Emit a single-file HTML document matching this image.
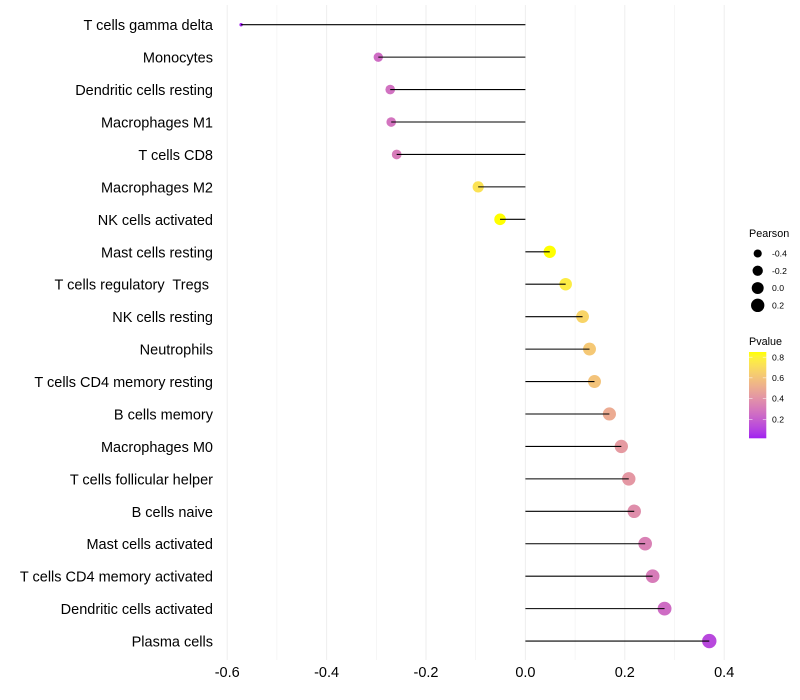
<!DOCTYPE html>
<html>
<head>
<meta charset="utf-8">
<title>Lollipop chart</title>
<style>
html,body{margin:0;padding:0;background:#fff;}
svg{display:block;}
text{font-family:"Liberation Sans",sans-serif;white-space:pre;}
</style>
</head>
<body>
<svg id="chart" width="800" height="700" viewBox="0 0 800 700" xmlns="http://www.w3.org/2000/svg">
<defs>
<linearGradient id="pgrad" x1="0" y1="1" x2="0" y2="0"></linearGradient>
</defs>
</svg>
<script>
const categories = ["T cells gamma delta","Monocytes","Dendritic cells resting","Macrophages M1","T cells CD8","Macrophages M2","NK cells activated","Mast cells resting","T cells regulatory  Tregs ","NK cells resting","Neutrophils","T cells CD4 memory resting","B cells memory","Macrophages M0","T cells follicular helper","B cells naive","Mast cells activated","T cells CD4 memory activated","Dendritic cells activated","Plasma cells"];
const pearsonValues = [-0.572,-0.296,-0.272,-0.270,-0.259,-0.095,-0.051,0.049,0.081,0.115,0.129,0.139,0.169,0.193,0.208,0.219,0.241,0.256,0.280,0.370];
const pValues = [0.016,0.25,0.27,0.28,0.31,0.73,0.85,0.85,0.77,0.67,0.62,0.60,0.50,0.43,0.42,0.38,0.33,0.31,0.25,0.12];
const xMajorTicks = [-0.6,-0.4,-0.2,0.0,0.2,0.4];
const xMinorTicks = [-0.5,-0.3,-0.1,0.1,0.3];
const sizeLegendValues = [-0.4,-0.2,0.0,0.2];
const colorLegendValues = [0.2,0.4,0.6,0.8];

const svg = document.getElementById('chart');
const NS = 'http://www.w3.org/2000/svg';
function mk(tag, attrs, parent) {
  const el = document.createElementNS(NS, tag);
  for (const k in attrs) el.setAttribute(k, attrs[k]);
  (parent || svg).appendChild(el);
  return el;
}

const X0 = 525.4, XS = 497;
function xScale(v) { return X0 + v * XS; }
const ROW0 = 24.7, ROWSTEP = 32.44;
function yScale(i) { return ROW0 + i * ROWSTEP; }
const PANEL_TOP = 5, PANEL_BOTTOM = 660;

const vMin = Math.min(...pearsonValues), vMax = Math.max(...pearsonValues);
function rScale(v) {
  const t = Math.max(0, (v - vMin) / (vMax - vMin));
  return 1.7 + 5.5 * Math.sqrt(t);
}

function hex2lab(h) {
  const c = [1,3,5].map(i => parseInt(h.substr(i,2),16)/255).map(u => u>0.04045?Math.pow((u+0.055)/1.055,2.4):u/12.92);
  const x=(0.4124*c[0]+0.3576*c[1]+0.1805*c[2])/0.95047, y=0.2126*c[0]+0.7152*c[1]+0.0722*c[2], z=(0.0193*c[0]+0.1192*c[1]+0.9505*c[2])/1.08883;
  const f=t=>t>0.008856?Math.cbrt(t):7.787*t+16/116;
  return [116*f(y)-16,500*(f(x)-f(y)),200*(f(y)-f(z))];
}
function lab2rgb(l) {
  const fy=(l[0]+16)/116, fx=fy+l[1]/500, fz=fy-l[2]/200;
  const g=t=>t*t*t>0.008856?t*t*t:(t-16/116)/7.787;
  const x=g(fx)*0.95047,y=g(fy),z=g(fz)*1.08883;
  const r=[3.2406*x-1.5372*y-0.4986*z,-0.9689*x+1.8758*y+0.0415*z,0.0557*x-0.2040*y+1.0570*z];
  const v=r.map(u=>{u=Math.min(1,Math.max(0,u));return Math.round(255*(u>0.0031308?1.055*Math.pow(u,1/2.4)-0.055:12.92*u));});
  return 'rgb('+v.join(',')+')';
}
const LOW = hex2lab('#a020f0'), HIGH = hex2lab('#ffff00');
const P_MIN = 0.016, P_MAX = 0.85;
function pColor(p) {
  const t = Math.min(1, Math.max(0, (p - P_MIN) / (P_MAX - P_MIN)));
  return lab2rgb([0,1,2].map(i => LOW[i] + (HIGH[i] - LOW[i]) * t));
}

// gridlines
xMinorTicks.forEach(v => {
  const g = mk('line', {x1:xScale(v), x2:xScale(v), y1:PANEL_TOP, y2:PANEL_BOTTOM, stroke:'#efefef', 'stroke-width':0.55});
  
  
});
xMajorTicks.forEach(v => {
  const g = mk('line', {x1:xScale(v), x2:xScale(v), y1:PANEL_TOP, y2:PANEL_BOTTOM, stroke:'#efefef', 'stroke-width':1.07});
  
  
});

// points then stems
categories.forEach((c, i) => {
  const pt = mk('circle', {cx:xScale(pearsonValues[i]), cy:yScale(i), r:rScale(pearsonValues[i]), fill:pColor(pValues[i])});
  
  
});
categories.forEach((c, i) => {
  const s = mk('line', {x1:xScale(0), x2:xScale(pearsonValues[i]), y1:yScale(i), y2:yScale(i), stroke:'#000', 'stroke-width':1.07});
  
  
});

// y labels
categories.forEach((c, i) => {
  const t = mk('text', {x:213, y:yScale(i)+5.5, 'text-anchor':'end', 'font-size':14.5, fill:'#000'});
  t.textContent = c;
  
  
});

// x labels
xMajorTicks.forEach(v => {
  const t = mk('text', {x:xScale(v), y:677, 'text-anchor':'middle', 'font-size':14.5, fill:'#000'});
  t.textContent = v.toFixed(1);
  
  
});

// size legend
const sizeTitle = mk('text', {x:749, y:237, 'font-size':10.8, fill:'#000'});
sizeTitle.textContent = 'Pearson';


sizeLegendValues.forEach((v, i) => {
  const y = 253.5 + i * 17.28;
  const d = mk('circle', {cx:757.7, cy:y, r:rScale(v), fill:'#000'});
  
  
  const t = mk('text', {x:772, y:y+3.1, 'font-size':8.64, fill:'#000'});
  t.textContent = v.toFixed(1);
  
  
});

// color legend
const colorTitle = mk('text', {x:749, y:345, 'font-size':10.8, fill:'#000'});
colorTitle.textContent = 'Pvalue';


const grad = document.getElementById('pgrad');
for (let k = 0; k <= 20; k++) {
  mk('stop', {offset:(k/20), 'stop-color':pColor(P_MIN + (P_MAX - P_MIN) * k / 20)}, grad);
}
const BAR_TOP = 352, BAR_BOTTOM = 438.3, BAR_X = 749, BAR_W = 17.3;
function barY(p) { return BAR_BOTTOM - (p - P_MIN) / (P_MAX - P_MIN) * (BAR_BOTTOM - BAR_TOP); }
const bar = mk('rect', {x:BAR_X, y:BAR_TOP, width:BAR_W, height:BAR_BOTTOM-BAR_TOP, fill:'url(#pgrad)'});


colorLegendValues.forEach(v => {
  const y = barY(v);
  const a = mk('line', {x1:BAR_X, x2:BAR_X+3.5, y1:y, y2:y, stroke:'#fff', 'stroke-width':0.5});
  
  
  const b = mk('line', {x1:BAR_X+BAR_W-3.5, x2:BAR_X+BAR_W, y1:y, y2:y, stroke:'#fff', 'stroke-width':0.5});
  
  
  const t = mk('text', {x:772, y:y+3.1, 'font-size':8.64, fill:'#000'});
  t.textContent = v.toFixed(1);
  
  
});
</script>
</body>
</html>
